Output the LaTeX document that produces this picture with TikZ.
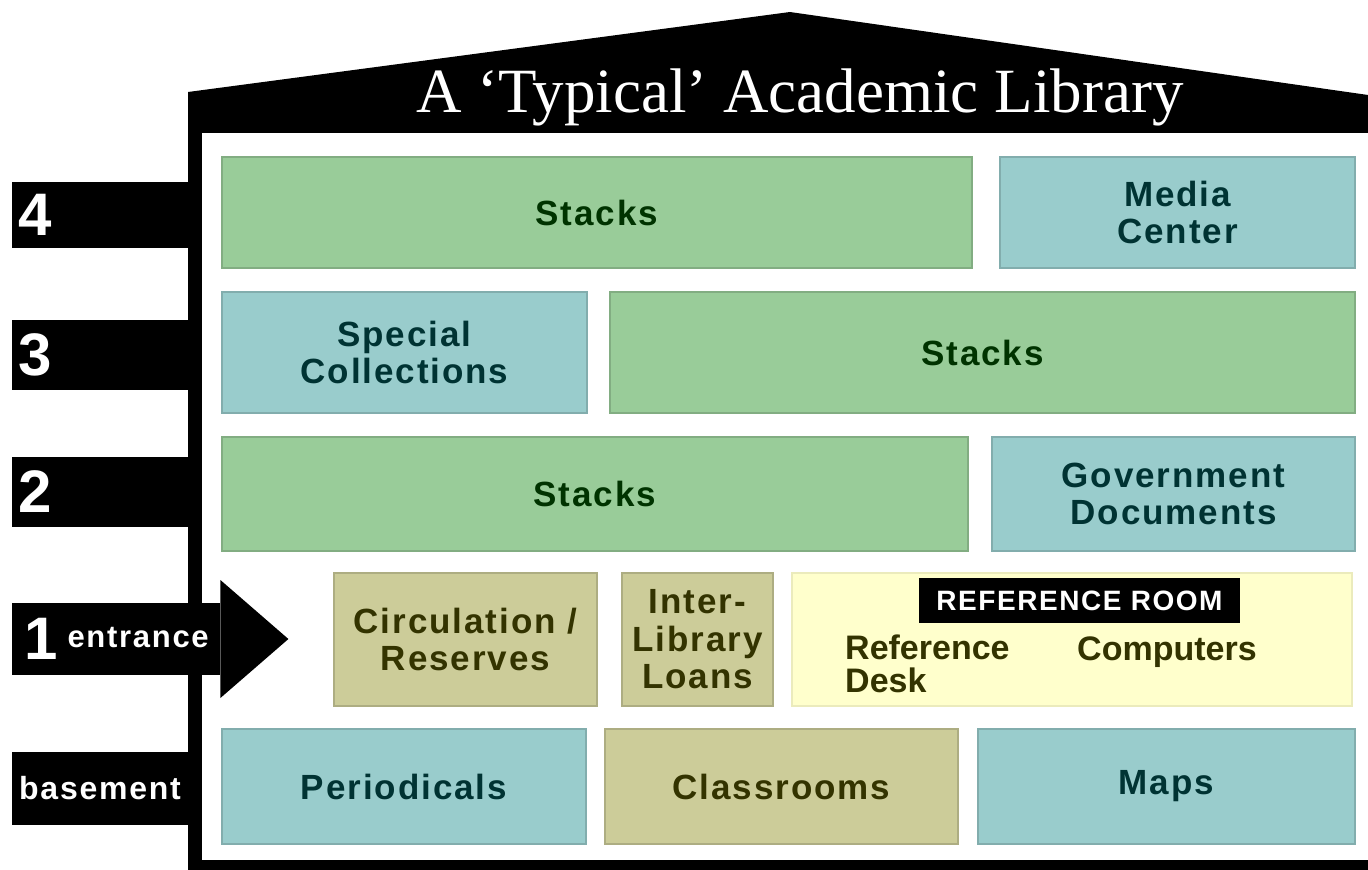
\documentclass[tikz,border=0pt]{standalone}
\usepackage{fontspec}
\usepackage{tikz}
\usetikzlibrary{calc}
\newfontfamily\labelfont[LetterSpace=5.5]{Liberation Sans}
\newfontfamily\deskfont{Liberation Sans}
\newfontfamily\titlefont{Liberation Serif}
\definecolor{lGreen}{HTML}{99CC99}
\definecolor{lBlue}{HTML}{99CCCC}
\definecolor{lTan}{HTML}{CCCC99}
\definecolor{lCream}{HTML}{FFFFCC}
\definecolor{dGreen}{HTML}{003300}
\definecolor{dBlue}{HTML}{003333}
\definecolor{dTan}{HTML}{333300}

\begin{document}
\begin{tikzpicture}[x=1pt,y=-1pt]
		\tikzstyle{ROOM} = [line width=1.2pt, inner sep=0pt, align=center, font=\labelfont\bfseries\fontsize{35}{37.5}\selectfont]
		\tikzstyle{stacks} = [ROOM, draw=lGreen!85!black, fill=lGreen, text=dGreen]
		\tikzstyle{service} = [ROOM, draw=lBlue!85!black, fill=lBlue, text=dBlue]
		\tikzstyle{desk} = [ROOM, draw=lTan!85!black, fill=lTan, text=dTan]
		\tikzstyle{FLOOR} = [anchor=west, fill=black, text=white, inner xsep=6pt, inner ysep=0pt, align=left, font=\labelfont\bfseries\fontsize{60}{60}\selectfont]
		\tikzstyle{spot} = [inner sep=0pt, text=dTan, font=\deskfont\bfseries\fontsize{34}{33}\selectfont]
		\useasboundingbox (0,0) rectangle (1368,870);

		% house
		\fill[black] (188,870) -- (188,92) -- (790,12) -- (1368,95) -- (1368,870) -- cycle;
		\fill[white] (202,133) rectangle (1368,860);
		\node[anchor=base, text=white, inner sep=0pt, font=\titlefont\fontsize{63}{63}\selectfont] (title) at (800,112) {A ‘Typical’ Academic Library};

		% floor labels
		\node[FLOOR, text width=164pt, minimum height=66pt] (fFour) at (12,215) {4};
		\node[FLOOR, text width=164pt, minimum height=70pt] (fThree) at (12,355) {3};
		\node[FLOOR, text width=164pt, minimum height=70pt] (fTwo) at (12,492) {2};
		\node[FLOOR, text width=196pt, minimum height=72pt] (fOne) at (12,639) {\hspace{6pt}1\hspace{10pt}\raisebox{12pt}{\fontsize{31}{31}\selectfont entrance}};
		\fill[black] (fOne.east) ++(0,-59) -- ++(68,59) -- ++(-68,59) -- cycle;
		\node[FLOOR, text width=166pt, inner xsep=7pt, minimum height=73pt, font=\labelfont\bfseries\fontsize{32}{32}\selectfont] (fBase) at (12,788) {basement};

		% floor 4
		\node[stacks, minimum width=750, minimum height=111] (stFour) at (597,212.5) {Stacks};
		\node[service, minimum width=355, minimum height=111] (media) at (1177.5,212.5) {Media\\Center};

		% floor 3
		\node[service, minimum width=365, minimum height=121] (special) at (404.5,352.5) {Special\\Collections};
		\node[stacks, minimum width=745, minimum height=121] (stThree) at (982.5,352.5) {Stacks};

		% floor 2
		\node[stacks, minimum width=746, minimum height=114] (stTwo) at (595,494) {Stacks};
		\node[service, minimum width=363, minimum height=114] (govDocs) at (1173.5,494) {Government\\Documents};

		% floor 1
		\node[desk, minimum width=263, minimum height=133] (circ) at (465.5,639.5) {Circulation /\\Reserves};
		\node[desk, minimum width=151, minimum height=133] (ill) at (697.5,639.5) {Inter-\\Library\\Loans};
		\node[ROOM, draw=lCream!92!black, fill=lCream, minimum width=560, minimum height=133] (refRoom) at (1072,639.5) {};
		\node[fill=black, text=white, inner sep=0pt, minimum width=321, minimum height=45, font=\labelfont\bfseries\fontsize{28}{28}\selectfont] (refTag) at (1079.5,600.5) {REFERENCE ROOM};
		\node[spot, anchor=north west, align=left] (refDesk) at (845,635) {Reference\\Desk};
		\node[spot, anchor=base west] (computers) at (1077,660) {Computers};

		% basement
		\node[service, minimum width=364, minimum height=115] (period) at (404,786.5) {Periodicals};
		\node[desk, minimum width=353, minimum height=115] (classR) at (781.5,786.5) {Classrooms};
		\node[service, minimum width=377, minimum height=115] (maps) at (1166.5,786.5) {Maps};
\end{tikzpicture}
\end{document}
